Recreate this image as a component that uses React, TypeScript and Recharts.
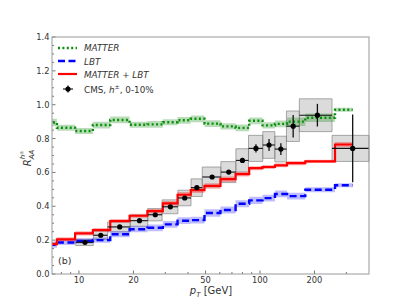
import React from "react";
import { Area, ComposedChart, ErrorBar, Line, ReferenceArea, Scatter, XAxis, YAxis } from "recharts";

// theory points sit at the CMS bin centres
const PT = [6.8, 8.4, 10.8, 13.2, 16.8, 21.6, 26.4, 32.0, 38.4, 44.8, 54.4, 67.2, 80.0, 95.0, 112.2, 130.4, 152.5, 207.5, 325];
const MATTER = [0.895, 0.864, 0.845, 0.88, 0.91, 0.882, 0.884, 0.896, 0.908, 0.917, 0.888, 0.872, 0.863, 0.905, 0.878, 0.887, 0.9, 0.923, 0.97];
const MATTER_ERR = [0.022, 0.018, 0.018, 0.02, 0.02, 0.018, 0.02, 0.018, 0.02, 0.02, 0.02, 0.018, 0.02, 0.02, 0.018, 0.02, 0.025, 0.025, 0.012];
const LBT = [0.173, 0.186, 0.195, 0.2, 0.235, 0.264, 0.273, 0.293, 0.315, 0.318, 0.36, 0.378, 0.415, 0.435, 0.448, 0.473, 0.46, 0.498, 0.524];
const LBT_ERR = [0.018, 0.015, 0.015, 0.015, 0.018, 0.018, 0.02, 0.02, 0.02, 0.02, 0.022, 0.02, 0.02, 0.022, 0.02, 0.02, 0.02, 0.015, 0.012];
const MATTER_LBT = [0.177, 0.205, 0.24, 0.26, 0.313, 0.344, 0.372, 0.417, 0.468, 0.495, 0.52, 0.56, 0.59, 0.625, 0.632, 0.642, 0.655, 0.665, 0.765];
const MATTER_LBT_ERR = [0.012, 0.012, 0.012, 0.012, 0.012, 0.012, 0.014, 0.014, 0.016, 0.016, 0.016, 0.016, 0.014, 0.012, 0.012, 0.012, 0.012, 0.01, 0.015];

// CMS h±, 0-10%
const CMS_LO = [9.6, 12, 14.4, 19.2, 24, 28.8, 35.2, 41.6, 48, 60.8, 73.6, 86.4, 103.6, 120.8, 140, 165, 250];
const CMS_HI = [12, 14.4, 19.2, 24, 28.8, 35.2, 41.6, 48, 60.8, 73.6, 86.4, 103.6, 120.8, 140, 165, 250, 400];
const CMS_RAA = [0.187, 0.229, 0.278, 0.315, 0.35, 0.397, 0.449, 0.51, 0.573, 0.602, 0.671, 0.742, 0.762, 0.738, 0.873, 0.938, 0.742];
const CMS_STAT = [0.004, 0.004, 0.004, 0.004, 0.005, 0.005, 0.006, 0.007, 0.008, 0.01, 0.015, 0.025, 0.036, 0.035, 0.066, 0.067, 0.2];
const CMS_SYS = [0.019, 0.024, 0.029, 0.033, 0.036, 0.041, 0.046, 0.052, 0.059, 0.062, 0.069, 0.077, 0.079, 0.076, 0.09, 0.097, 0.077];

const X_LABELS = [10, 20, 50, 100, 200];
const X_MINOR = [8, 9, 30, 40, 60, 70, 80, 90, 300];
const Y_TICKS = Array.from({ length: 29 }, (_, i) => Math.round(i * 5) / 100);

const FONT = "DejaVu Sans";
const TXT = "#333";

const rows = PT.map((pt, i) => ({
  pt,
  matter: MATTER[i],
  matterBand: [MATTER[i] - MATTER_ERR[i], MATTER[i] + MATTER_ERR[i]],
  lbt: LBT[i],
  lbtBand: [LBT[i] - LBT_ERR[i], LBT[i] + LBT_ERR[i]],
  both: MATTER_LBT[i],
  bothBand: [MATTER_LBT[i] - MATTER_LBT_ERR[i], MATTER_LBT[i] + MATTER_LBT_ERR[i]],
}));

const cms = CMS_RAA.map((raa, i) => ({
  pt: (CMS_LO[i] + CMS_HI[i]) / 2,
  raa,
  ex: (CMS_HI[i] - CMS_LO[i]) / 2,
  ey: CMS_STAT[i],
}));

function XTick(props: any) {
  const { x, y, payload } = props;
  const major = X_LABELS.includes(payload.value);
  return (
    <g>
      <line x1={x} x2={x} y1={y} y2={y - (major ? 3.5 : 2)} stroke="#555" strokeWidth={0.8} />
      {major && (
        <text x={x} y={y + 9} textAnchor="middle" fontSize={8.3} fontFamily={FONT} fill={TXT}>
          {payload.value}
        </text>
      )}
    </g>
  );
}

function YTick(props: any) {
  const { x, y, payload } = props;
  const v = payload.value;
  const major = Math.abs(v * 5 - Math.round(v * 5)) < 1e-6;
  return (
    <g>
      <line x1={x} x2={x + (major ? 3.5 : 2)} y1={y} y2={y} stroke="#555" strokeWidth={0.8} />
      {major && (
        <text x={x - 2.5} y={y + 3} textAnchor="end" fontSize={8.3} fontFamily={FONT} fill={TXT}>
          {v.toFixed(1)}
        </text>
      )}
    </g>
  );
}

export default function App() {
  return (
    <div style={{ position: "absolute", left: 0, top: 0, width: 411, height: 308, background: "#fff" }}>
      <ComposedChart width={411} height={308} data={rows} margin={{ top: 37, right: 42, left: 0, bottom: 0 }}>
        <XAxis
          dataKey="pt"
          type="number"
          scale="log"
          domain={[7.1, 400]}
          allowDataOverflow
          ticks={[...X_MINOR, ...X_LABELS]}
          interval={0}
          height={34}
          axisLine={false}
          tickLine={false}
          tickSize={0}
          tickMargin={0}
          tick={<XTick />}
        />
        <YAxis
          type="number"
          domain={[0, 1.4]}
          allowDataOverflow
          ticks={Y_TICKS}
          interval={0}
          width={52}
          axisLine={false}
          tickLine={false}
          tickSize={0}
          tickMargin={0}
          tick={<YTick />}
        />
        {cms.map((d, i) => (
          <ReferenceArea
            key={i}
            x1={CMS_LO[i]}
            x2={CMS_HI[i]}
            y1={d.raa - CMS_SYS[i]}
            y2={d.raa + CMS_SYS[i]}
            fill="#999"
            fillOpacity={0.35}
            stroke="#777"
            strokeOpacity={0.6}
            strokeWidth={1}
          />
        ))}
        <Area dataKey="matterBand" type="step" fill="#008000" fillOpacity={0.28} stroke="none" isAnimationActive={false} />
        <Area dataKey="lbtBand" type="step" fill="#0000ff" fillOpacity={0.26} stroke="none" isAnimationActive={false} />
        <Area dataKey="bothBand" type="step" fill="#ff0000" fillOpacity={0.3} stroke="none" isAnimationActive={false} />
        <Line dataKey="matter" type="step" stroke="#0a8f0a" strokeWidth={2.4} strokeDasharray="2 2.4" dot={false} isAnimationActive={false} />
        <Line dataKey="lbt" type="step" stroke="#0000ff" strokeWidth={2.4} strokeDasharray="7 3.5" dot={false} isAnimationActive={false} />
        <Line dataKey="both" type="step" stroke="#ff0000" strokeWidth={2.2} dot={false} isAnimationActive={false} />
        <Scatter
          data={cms}
          dataKey="raa"
          isAnimationActive={false}
          shape={(p: any) => <circle cx={p.cx} cy={p.cy} r={2.6} fill="#000" />}
        >
          <ErrorBar dataKey="ey" direction="y" width={0} stroke="#111" strokeWidth={1.3} />
          <ErrorBar dataKey="ex" direction="x" width={0} stroke="#111" strokeWidth={1.1} />
        </Scatter>
      </ComposedChart>
      <svg width={411} height={308} style={{ position: "absolute", left: 0, top: 0, pointerEvents: "none" }} fontFamily={FONT}>
        <rect x={52} y={37} width={317} height={237} fill="none" stroke="#999" strokeWidth={1} />
        {/* legend */}
        <line x1={58} x2={77} y1={48} y2={48} stroke="#0a8f0a" strokeWidth={2.4} strokeDasharray="2 2.4" />
        <line x1={58} x2={77} y1={61} y2={61} stroke="#0000ff" strokeWidth={2.4} strokeDasharray="7 3.5" />
        <line x1={58} x2={77} y1={74} y2={74} stroke="#ff0000" strokeWidth={2.2} />
        <line x1={63} x2={73} y1={89} y2={89} stroke="#111" strokeWidth={1.1} />
        <line x1={68} x2={68} y1={85.5} y2={92.5} stroke="#111" strokeWidth={1.3} />
        <circle cx={68} cy={89} r={2.6} fill="#000" />
        <g fontSize={8.8} fill={TXT}>
          <text x={84} y={51} fontStyle="italic">MATTER</text>
          <text x={84} y={64.5} fontStyle="italic">LBT</text>
          <text x={84} y={77.5} fontStyle="italic">MATTER + LBT</text>
          <text x={84} y={92.5}>
            CMS, <tspan fontStyle="italic">h</tspan>
            <tspan dy={-3.5} fontSize={6.2}>±</tspan>
            <tspan dy={3.5}>, 0-10%</tspan>
          </text>
        </g>
        <text x={58} y={263.5} fontSize={9.5} fill={TXT}>(b)</text>
        {/* axis labels */}
        <text x={211} y={294} textAnchor="middle" fontSize={10} fill={TXT}>
          <tspan fontStyle="italic">p</tspan>
          <tspan fontStyle="italic" fontSize={7} dy={2.5}>T</tspan>
          <tspan dy={-2.5}> [GeV]</tspan>
        </text>
        <text x={31} y={158} transform="rotate(-90 31 158)" textAnchor="middle" fontSize={10} fill={TXT}>
          <tspan fontStyle="italic">R</tspan>
          <tspan fontStyle="italic" fontSize={7} dy={3}>AA</tspan>
          <tspan fontStyle="italic" fontSize={7} dx={-9.6} dy={-9}>h</tspan>
          <tspan fontSize={5} dy={-2.5}>±</tspan>
        </text>
      </svg>
    </div>
  );
}
